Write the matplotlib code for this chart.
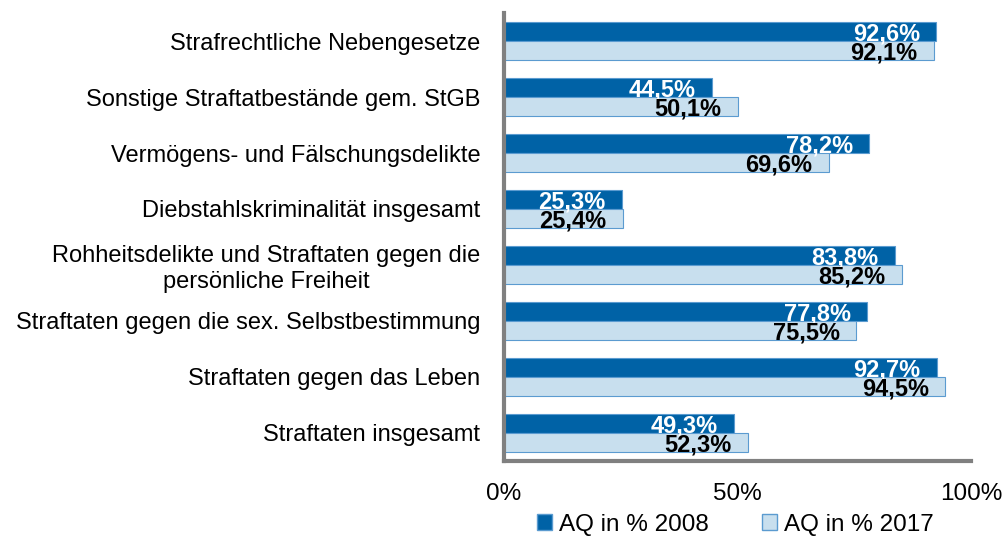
import numpy as np
import matplotlib.pyplot as plt
from matplotlib.patches import Patch

plt.rcParams["font.family"] = ["Liberation Sans", "DejaVu Sans"]

categories = [
    "Strafrechtliche Nebengesetze",
    "Sonstige Straftatbestände gem. StGB",
    "Vermögens- und Fälschungsdelikte",
    "Diebstahlskriminalität insgesamt",
    "Rohheitsdelikte und Straftaten gegen die\npersönliche Freiheit",
    "Straftaten gegen die sex. Selbstbestimmung",
    "Straftaten gegen das Leben",
    "Straftaten insgesamt",
]
aq_2008 = [92.6, 44.5, 78.2, 25.3, 83.8, 77.8, 92.7, 49.3]
aq_2017 = [92.1, 50.1, 69.6, 25.4, 85.2, 75.5, 94.5, 52.3]
series_names = ["AQ in % 2008", "AQ in % 2017"]
xticks = [0, 50, 100]

dark = "#0062a6"
light = "#c8dfee"
edge = "#5b9bd0"

fig = plt.figure(figsize=(10.05, 5.36), dpi=100)
ax = fig.add_axes([0.5015, 0.14, 0.4645, 0.8357])

y = np.arange(len(categories))
h = 0.34
ax.barh(y - h / 2, aq_2008, height=h, color=dark, edgecolor=edge, linewidth=0.8)
ax.barh(y + h / 2, aq_2017, height=h, color=light, edgecolor=edge, linewidth=0.8)

# value labels, right aligned just inside the bar ends
for i in range(len(categories)):
    ax.text(aq_2008[i] - 3.5, y[i] - h / 2 + 0.04, f"{aq_2008[i]:.1f}%".replace(".", ","),
            ha="right", va="center", color="white", fontsize=17, fontweight="bold")
    ax.text(aq_2017[i] - 3.5, y[i] + h / 2 + 0.05, f"{aq_2017[i]:.1f}%".replace(".", ","),
            ha="right", va="center", color="black", fontsize=17, fontweight="bold")

ax.set_ylim(len(categories) - 0.5, -0.5)
ax.set_xlim(0, 100)
ax.set_yticks(y)
ax.set_yticklabels(categories, fontsize=17, ha="right", multialignment="center")
ax.set_xticks(xticks)
ax.set_xticklabels([f"{t}%" for t in xticks], fontsize=17.5)
ax.tick_params(axis="both", length=0)
ax.tick_params(axis="x", pad=16)
ax.tick_params(axis="y", pad=17)

for s in ["top", "right"]:
    ax.spines[s].set_visible(False)
for s in ["left", "bottom"]:
    ax.spines[s].set_color("#808080")
    ax.spines[s].set_linewidth(3)

handles = [Patch(facecolor=dark, edgecolor=edge), Patch(facecolor=light, edgecolor=edge)]
fig.legend(handles, series_names, loc="lower center", bbox_to_anchor=(0.732, -0.04),
           ncol=2, frameon=False, fontsize=17.5, handlelength=0.6, handleheight=0.6,
           handletextpad=0.3, columnspacing=2.2)

plt.savefig("out.png", dpi=100)
plt.close()
